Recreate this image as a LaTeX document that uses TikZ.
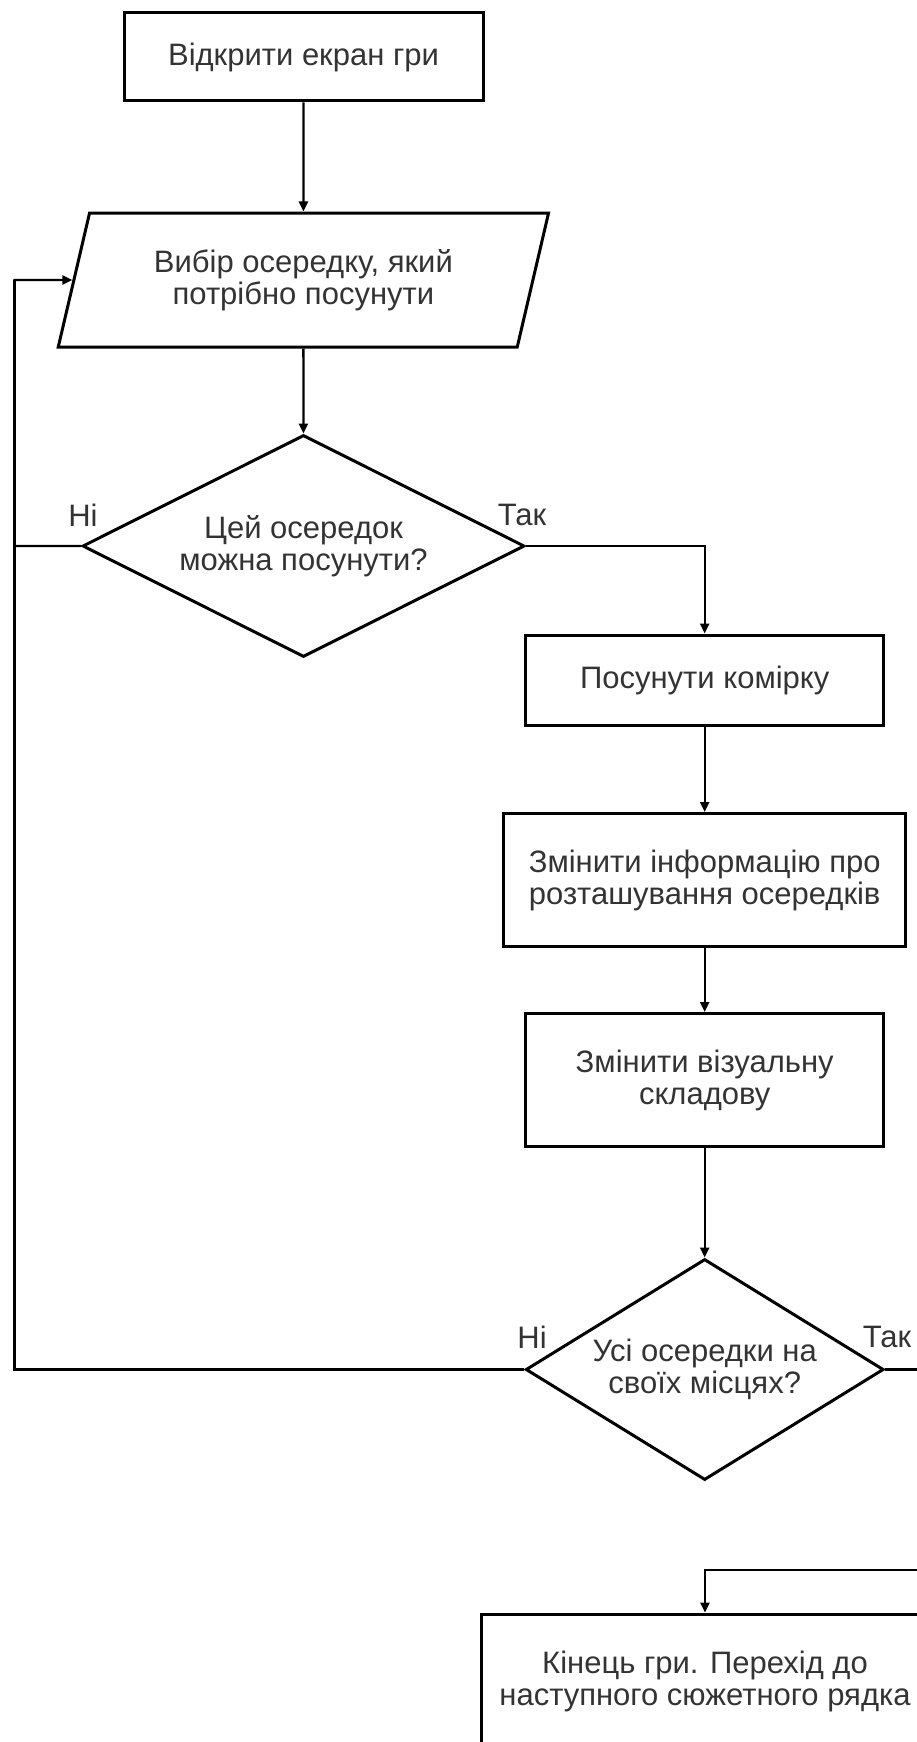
\documentclass[tikz,border=0pt]{standalone}
\usepackage{fontspec}
\setmainfont{Liberation Sans}
\usetikzlibrary{shapes.geometric,arrows.meta}

\tikzset{
  blok/.style={draw, line width=3pt, rectangle, align=center, text=black!80,
    font=\fontsize{31}{32}\selectfont, inner sep=0pt},
  vvid/.style={draw, line width=3pt, trapezium, trapezium left angle=70.4,
    trapezium right angle=109.6, trapezium stretches=true, align=center,
    text=black!80, font=\fontsize{31}{32}\selectfont, inner sep=0pt},
  umova/.style={draw, line width=3pt, diamond, aspect=2, align=center,
    text=black!80, font=\fontsize{31}{32}\selectfont, inner sep=0pt},
  mitka/.style={text=black!80, font=\fontsize{31}{32}\selectfont, inner sep=0pt},
  liniya/.style={line width=2.4pt},
  strilka/.style={line width=2.4pt, -{Triangle[length=10pt,width=9pt]}}
}

\begin{document}
\begin{tikzpicture}[x=1pt, y=-1pt]
	\useasboundingbox (0,0) rectangle (917,1742);
	\clip (0,0) rectangle (917,1742);

	% Start of the game
	\node[blok, minimum width=359pt, minimum height=88pt] (open) at (303.5,57) {Відкрити екран гри};
	\node[vvid, minimum width=491pt, minimum height=134pt] (choose) at (303.4,280) {Вибір осередку, який\\потрібно посунути};
	\node[umova, minimum width=442pt, minimum height=222pt] (can) at (303.5,546) {Цей осередок\\можна посунути?};

	% Moving the cell
	\node[blok, minimum width=358pt, minimum height=90pt] (move) at (704.7,680) {Посунути комірку};
	\node[blok, minimum width=402pt, minimum height=133pt] (info) at (704.7,880) {Змінити інформацію про\\розташування осередків};
	\node[blok, minimum width=358pt, minimum height=133pt] (visual) at (704.7,1080) {Змінити візуальну\\складову};
	\node[umova, minimum width=358pt, minimum height=221pt] (check) at (704.7,1369.5) {Усі осередки на\\своїх місцях?};

	% End of the game
	\node[blok, minimum width=448pt, minimum height=134pt] (end) at (705,1681) {Кінець гри. Перехід до\\наступного сюжетного рядка};

	% Labels
	\node[mitka] (ni1) at (83,515) {Ні};
	\node[mitka] (tak1) at (522,515) {Так};
	\node[mitka] (ni2) at (532,1337) {Ні};
	\node[mitka] (tak2) at (887,1337) {Так};

	% Connectors
	\coordinate (kut) at (14.5,280);
	\coordinate (obhid) at (950,1570);
	\draw[strilka] (open) -- (choose);
	\draw[strilka] (choose) -- (can);
	\draw[strilka] (can.west) -| (kut) -- (choose.west);
	\draw[strilka] (can.east) -| (move);
	\draw[strilka] (move) -- (info);
	\draw[strilka] (info) -- (visual);
	\draw[strilka] (visual) -- (check);
	\draw[liniya] (check.west) -| (kut);
	\draw[strilka] (check.east) -| (obhid) -| (end);
\end{tikzpicture}
\end{document}
